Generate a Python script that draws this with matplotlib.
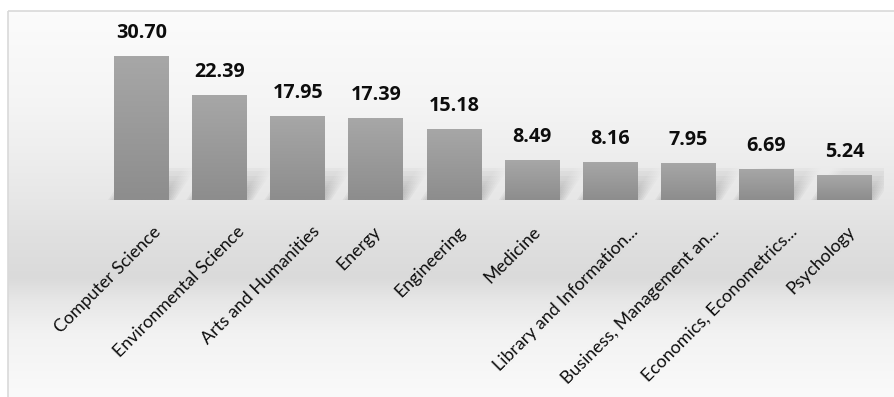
import numpy as np
import matplotlib
matplotlib.use("Agg")
import matplotlib.pyplot as plt
from matplotlib.patches import Polygon
from matplotlib.colors import LinearSegmentedColormap
import matplotlib.transforms as mtransforms

# ---------------- data ----------------
categories = [
    "Computer Science",
    "Environmental Science",
    "Arts and Humanities",
    "Energy",
    "Engineering",
    "Medicine",
    "Library and Information...",
    "Business, Management an...",
    "Economics, Econometrics...",
    "Psychology",
]
values = [30.70, 22.39, 17.95, 17.39, 15.18, 8.49, 8.16, 7.95, 6.69, 5.24]

# ---------------- layout ----------------
W, H, DPI = 894, 397, 100
LAB_FONT = "Lato"
VAL_FONT = "Open Sans"
fig = plt.figure(figsize=(W / DPI, H / DPI), dpi=DPI)
fig.patch.set_facecolor("white")

# background panel with vertical gradient (pixel coordinates)
bg = fig.add_axes([0, 0, 1, 1])
bg.set_xlim(0, W)
bg.set_ylim(H, 0)
bg.axis("off")
stops_y = [11, 33, 100, 150, 200, 233, 277, 300, 333, 383, 397]
stops_v = [0.985, 0.98, 0.96, 0.935, 0.905, 0.88, 0.855, 0.905, 0.95, 0.975, 0.98]
rows = np.interp(np.arange(11, H), stops_y, stops_v)
img = np.repeat(rows[:, None], 2, axis=1)
img = np.dstack([img, img, img])
bg.imshow(img, extent=(8, W, H, 11), aspect="auto", interpolation="bilinear")
bg.plot([8, 8], [H, 11], color="#d9d9d9", lw=1.2, solid_capstyle="butt")
bg.plot([8, W], [11, 11], color="#d9d9d9", lw=1.2, solid_capstyle="butt")
bg.set_xlim(0, W)
bg.set_ylim(H, 0)

# plotting axes
px_per_unit = 144 / 30.70
ax_left_px, ax_right_px = 102.4, 883.6
ax_bottom_px, ax_top_px = 200, 11
ax = fig.add_axes([ax_left_px / W, (H - ax_bottom_px) / H,
                   (ax_right_px - ax_left_px) / W, (ax_bottom_px - ax_top_px) / H])
ax.patch.set_alpha(0)
for s in ax.spines.values():
    s.set_visible(False)
ax.set_xticks([])
ax.set_yticks([])
ymax = (ax_bottom_px - ax_top_px) / px_per_unit
x = np.arange(len(categories))

# soft shadows behind bars
bar_w = 0.7
px_per_x = 78.1
sh_dx = 24 / px_per_x
sh_dy = 36 / px_per_unit
grad = np.linspace(0, 1, 64)[:, None]
n_blur = 7
sh_rgba = np.zeros((64, 2, 4))
sh_rgba[..., :3] = 0.3
sh_rgba[..., 3] = (0.45 / n_blur * (1 - grad) ** 1.3).repeat(2, axis=1)
for xi in x:
    for k in range(n_blur):
        s = (k - (n_blur - 1) / 2) * 2.0 / px_per_x
        x0, x1 = xi - bar_w / 2 + s, xi + bar_w / 2 + s
        poly = Polygon([(x0, 0), (x1, 0), (x1 + sh_dx, sh_dy), (x0 + sh_dx, sh_dy)],
                       closed=True, facecolor="none", edgecolor="none")
        ax.add_patch(poly)
        im = ax.imshow(sh_rgba, extent=(x0, x1 + sh_dx, 0, sh_dy), origin="lower",
                       aspect="auto", interpolation="bilinear", zorder=1)
        im.set_clip_path(poly)

# bars with vertical gradient
bars = ax.bar(x, values, width=bar_w, color="#999999", zorder=3, linewidth=0)
bar_cmap = LinearSegmentedColormap.from_list("barg", ["#8d8d8d", "#a7a7a7"])
for b in bars:
    x0, w_, h_ = b.get_x(), b.get_width(), b.get_height()
    im = ax.imshow(grad, extent=(x0, x0 + w_, 0, h_), origin="lower", cmap=bar_cmap,
                   aspect="auto", interpolation="bilinear", zorder=4)
    im.set_clip_path(b)

ax.set_xlim(-0.5, len(categories) - 0.5)
ax.set_ylim(0, ymax)

# value labels
for xi, v in zip(x, values):
    ax.annotate(f"{v:.2f}", xy=(xi, v), xytext=(0, 18 * 72 / DPI),
                textcoords="offset points", ha="center", va="baseline",
                fontsize=14.2, fontweight="bold", family=VAL_FONT, color="#0d0d0d",
                zorder=5)

# category labels (rotated)
LAB_FS = 12.8
renderer = fig.canvas.get_renderer()
for xi, lab in zip(x, categories):
    tmp = ax.text(0, 0, lab, fontsize=LAB_FS, family=LAB_FONT)
    L = tmp.get_window_extent(renderer).width
    tmp.remove()
    off_px = 0.16 * L - 6
    tr = ax.get_xaxis_transform() + mtransforms.ScaledTranslation(
        off_px / DPI, -29 / DPI, fig.dpi_scale_trans)
    ax.text(xi, 0, lab, transform=tr, fontsize=LAB_FS, family=LAB_FONT, color="#0d0d0d",
            ha="right", va="center", rotation=45, rotation_mode="anchor",
            clip_on=False)

fig.savefig("out.png", dpi=DPI)
